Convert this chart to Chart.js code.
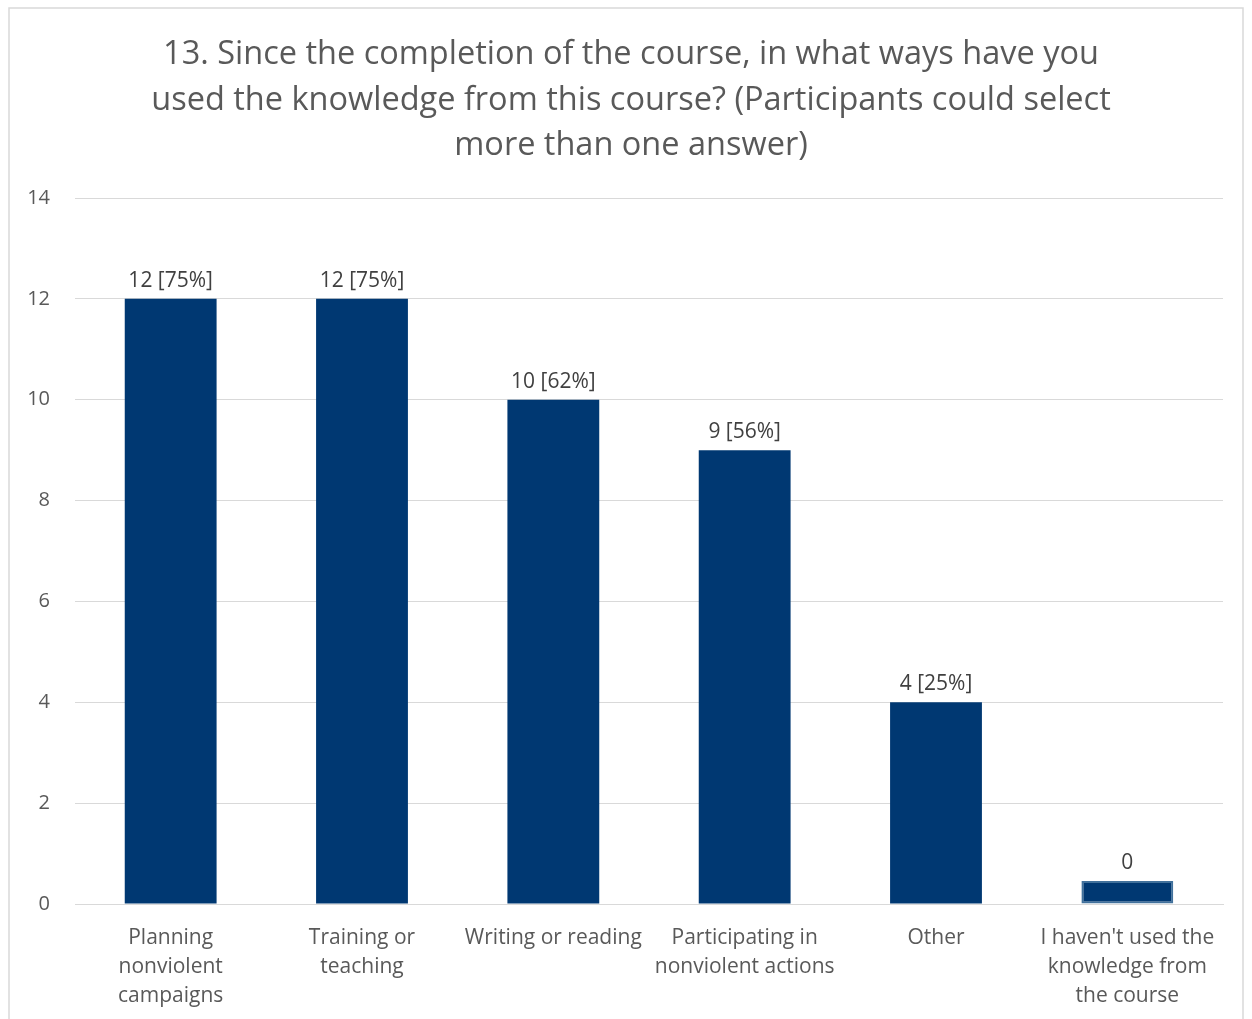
<!DOCTYPE html>
<html>
<head>
<meta charset="utf-8">
<title>Use of course knowledge</title>
<script src="https://cdn.jsdelivr.net/npm/chart.js@4.4.1/dist/chart.umd.min.js"></script>
<style>
  html, body { margin: 0; padding: 0; background: #ffffff; }
  #wrap { position: relative; width: 1252px; height: 1019px; }
</style>
</head>
<body>
<div id="wrap"><canvas id="chart"></canvas></div>
<script>
const categories = [
  ["Planning", "nonviolent", "campaigns"],
  ["Training or", "teaching"],
  "Writing or reading",
  ["Participating in", "nonviolent actions"],
  "Other",
  ["I haven't used the", "knowledge from", "the course"],
];
const counts = [12, 12, 10, 9, 4, 0];
const percents = [75, 75, 62, 56, 25, null];

const titleLines = [
  "13. Since the completion of the course, in what ways have you",
  "used the knowledge from this course? (Participants could select",
  "more than one answer)",
];

const navy = "#003872";
const textGrey = "#595959";
const gridGrey = "#D9D9D9";

Chart.defaults.font.family = "'Open Sans', sans-serif";
Chart.defaults.color = textGrey;

// light frame around the whole chart, plus the three-line heading
const frame = {
  id: "frame",
  beforeDraw(chart) {
    const c = chart.ctx;
    c.save();
    c.strokeStyle = gridGrey;
    c.lineWidth = 1.5;
    c.strokeRect(9, 8, 1234, 1040);

    c.font = "32.5px 'Open Sans', sans-serif";
    c.fillStyle = textGrey;
    c.textAlign = "center";
    c.textBaseline = "middle";
    titleLines.forEach((line, i) => {
      c.fillText(line, 631, 55 + i * 45.5);
    });
    c.restore();
  },
};

// "n [p%]" above each bar
const valueLabels = {
  id: "valueLabels",
  afterDatasetsDraw(chart) {
    const c = chart.ctx;
    const meta = chart.getDatasetMeta(0);
    c.save();
    c.font = "21px 'Open Sans', sans-serif";
    c.fillStyle = "#404040";
    c.textAlign = "center";
    c.textBaseline = "middle";
    meta.data.forEach((bar, i) => {
      const p = percents[i];
      const txt = p == null ? String(counts[i]) : counts[i] + " [" + p + "%]";
      c.fillText(txt, bar.x, bar.y - 18);
    });
    c.restore();
  },
};

new Chart(document.getElementById("chart"), {
  type: "bar",
  data: {
    labels: categories,
    datasets: [
      {
        data: counts,
        backgroundColor: navy,
        borderColor: counts.map((v) => (v === 0 ? "#41719C" : navy)),
        borderWidth: counts.map((v) => (v === 0 ? 2 : 0)),
        borderSkipped: false,
        minBarLength: 23,
        barPercentage: 0.48,
        categoryPercentage: 1,
      },
    ],
  },
  options: {
    responsive: true,
    maintainAspectRatio: false,
    animation: false,
    layout: {
      padding: { left: 9, right: 29, top: 198, bottom: 0 },
    },
    plugins: {
      legend: { display: false },
      tooltip: { enabled: false },
      title: { display: false },
    },
    scales: {
      y: {
        min: 0,
        max: 14,
        ticks: {
          stepSize: 2,
          padding: 25,
          color: textGrey,
          font: { size: 20 },
        },
        grid: {
          color: gridGrey,
          lineWidth: 1,
          drawTicks: false,
        },
        border: { display: false },
        afterFit(scale) {
          scale.width = 66;
        },
      },
      x: {
        ticks: {
          padding: 20,
          color: textGrey,
          font: { size: 21, lineHeight: 1.38 },
          maxRotation: 0,
          autoSkip: false,
        },
        grid: { display: false, drawTicks: false },
        border: { display: true, color: gridGrey, width: 1 },
        afterFit(scale) {
          scale.height = 115;
        },
      },
    },
  },
  plugins: [frame, valueLabels],
});
</script>
</body>
</html>
